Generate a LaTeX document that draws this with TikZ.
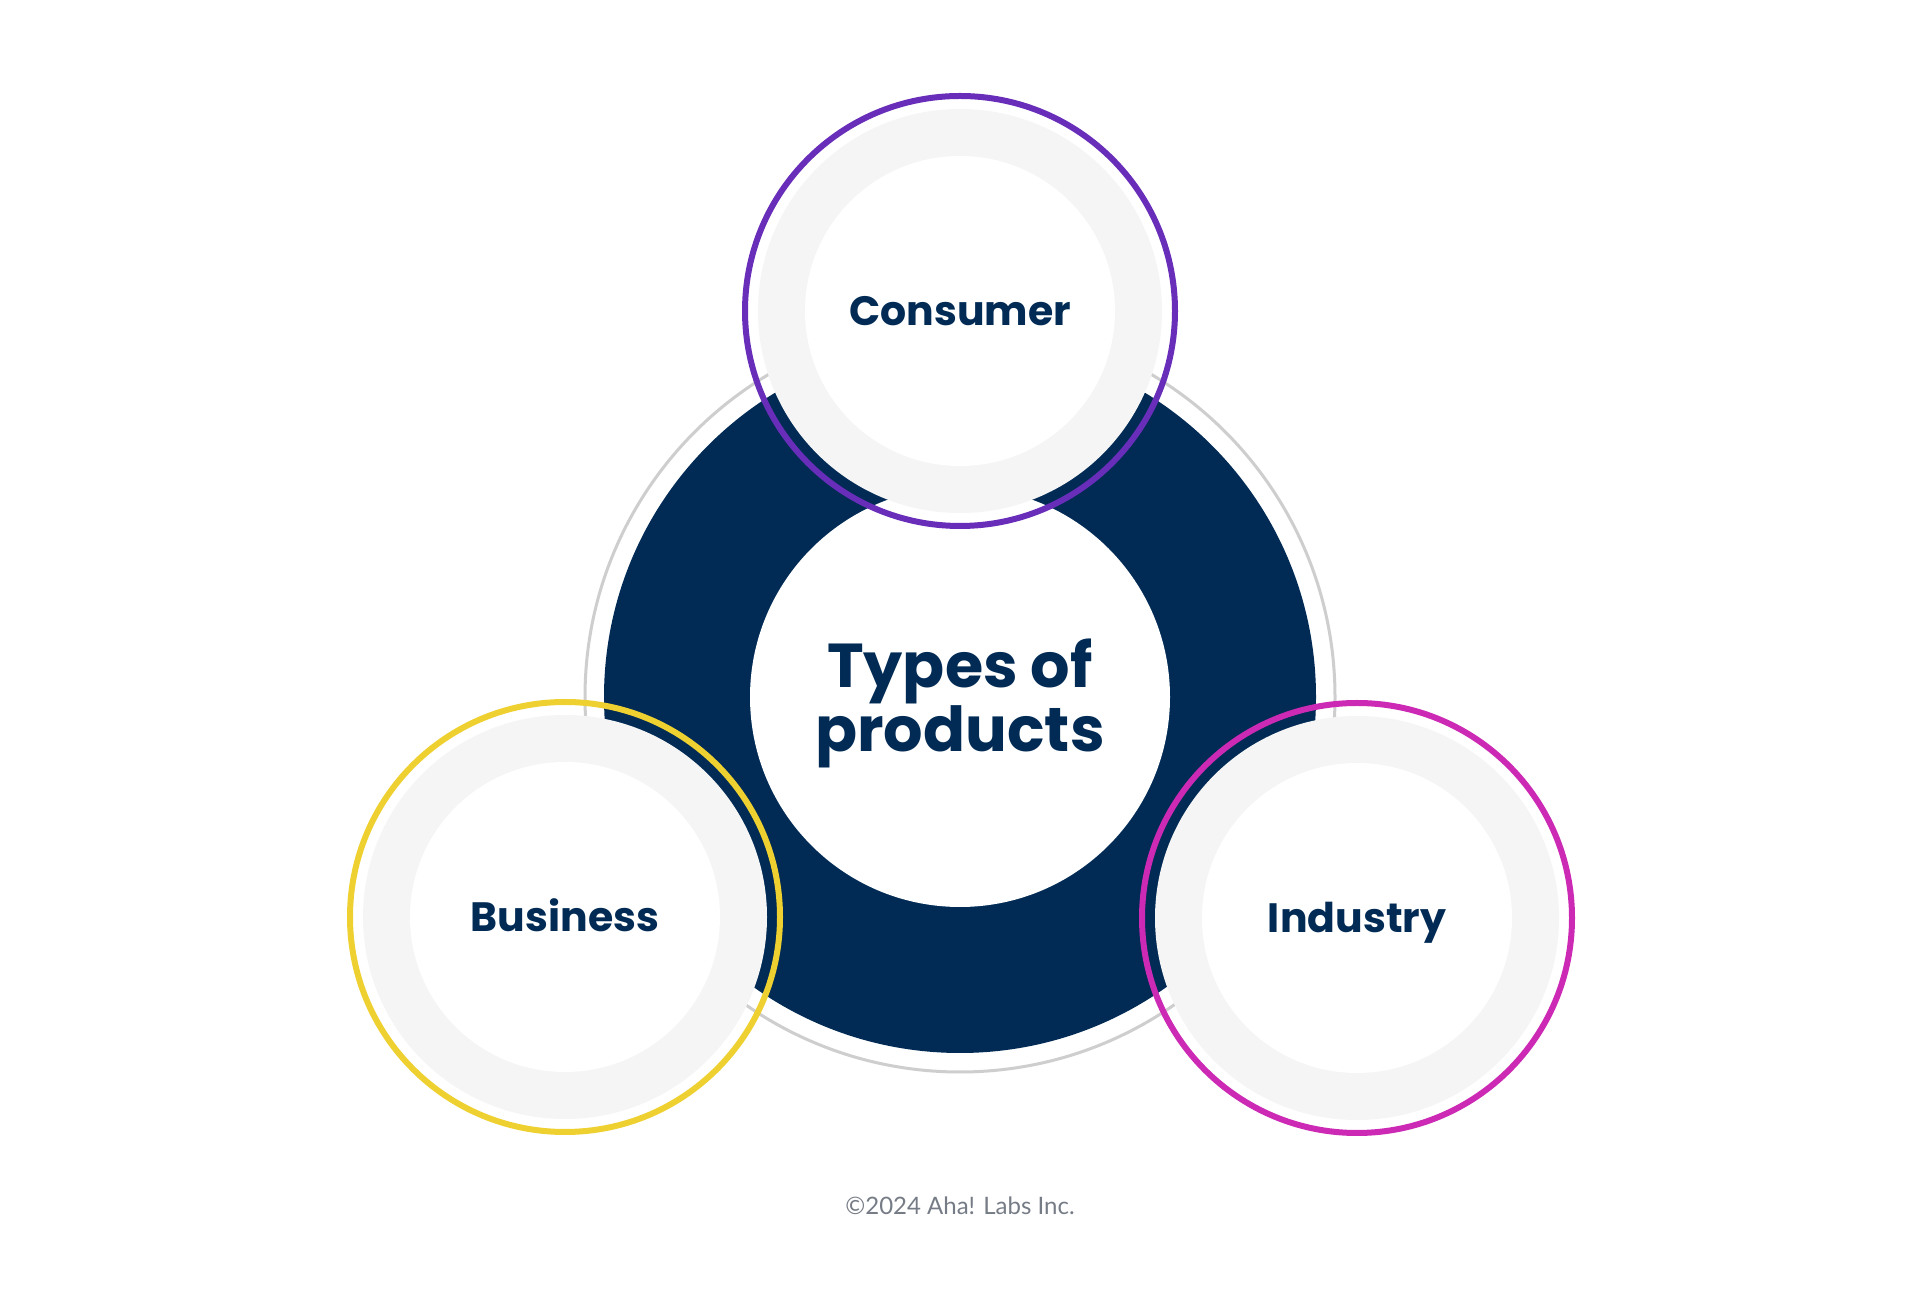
\documentclass[tikz,border=0pt]{standalone}
\usepackage{fontspec}
\setmainfont{Poppins}
\newfontfamily\notefont{Lato}
\usetikzlibrary{positioning}
\definecolor{cnavy}{RGB}{1,43,85}
\definecolor{cpurple}{RGB}{104,45,185}
\definecolor{cyellow}{RGB}{238,208,48}
\definecolor{cmagenta}{RGB}{204,42,180}
\definecolor{cpale}{RGB}{245,245,245}
\definecolor{cline}{RGB}{206,206,206}
\definecolor{cnote}{RGB}{118,124,134}

\begin{document}
\begin{tikzpicture}[x=1pt,y=1pt,inner sep=0pt,outer sep=0pt,
  halo node/.style={circle,draw=cline,line width=3pt,minimum size=750pt},
  band node/.style={circle,fill=cnavy,minimum size=712pt},
  hub node/.style={circle,fill=white,minimum size=420pt},
  title node/.style={text=cnavy,align=center,font=\bfseries\fontsize{62}{64}\selectfont},
  pad node/.style={circle,fill=cpale,minimum size=404pt},
  type node/.style={circle,fill=white,minimum size=310pt,text=cnavy,
    text height=30pt,text depth=0pt,font=\bfseries\fontsize{41}{41}\selectfont},
  ring node/.style={circle,draw=#1,line width=6pt,minimum size=430pt}]
  \useasboundingbox[fill=white] (0,0) rectangle (1920,1312);

  % centre ring
  \node[halo node] (halo) at (960,615) {};
  \node[band node] (band) at (960,615) {};
  \node[hub node] (hub) at (960,615) {};
  \node[title node] (title) at ([yshift=-6pt]hub.center) {Types of\\products};

  % the three types
  \node[pad node] (cpad) at (960,1001) {};
  \node[type node] (consumer) at (cpad) {Consumer};
  \node[ring node=cpurple] (cring) at (cpad) {};

  \node[pad node] (bpad) at (565,395) {};
  \node[type node] (business) at (bpad) {Business};
  \node[ring node=cyellow] (bring) at (bpad) {};

  \node[pad node] (ipad) at (1357,394) {};
  \node[type node] (industry) at (ipad) {Industry};
  \node[ring node=cmagenta] (iring) at (ipad) {};

  \node[anchor=base,text=cnote,font=\notefont\fontsize{24}{24}\selectfont] (note) at (960,97) {©2024 Aha! Labs Inc.};
\end{tikzpicture}
\end{document}
